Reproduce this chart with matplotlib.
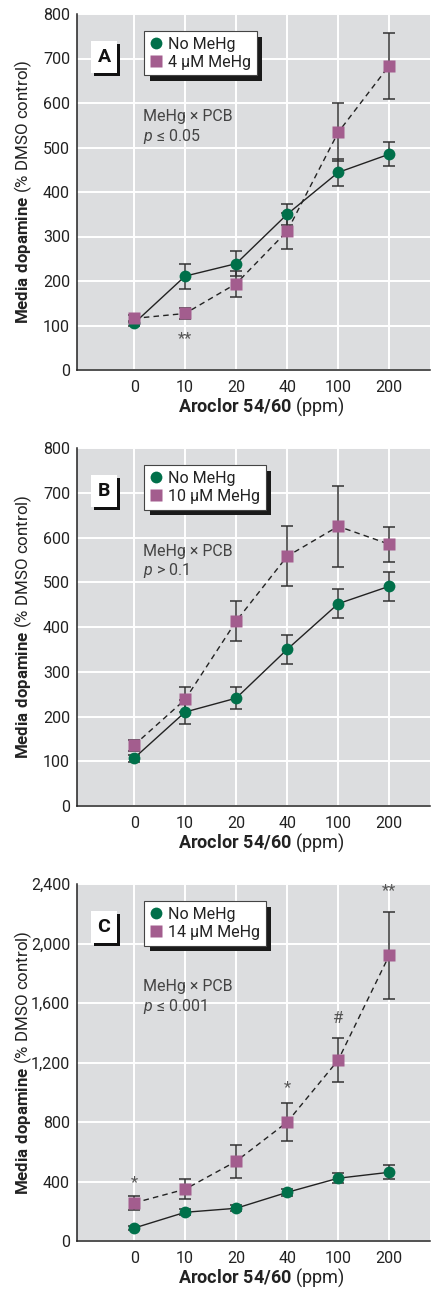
import matplotlib
matplotlib.use("Agg")
import matplotlib.pyplot as plt
import matplotlib.patheffects as pe
from matplotlib.ticker import FuncFormatter

FONT = ['Roboto', 'DejaVu Sans']
plt.rcParams['font.family'] = FONT
plt.rcParams['mathtext.fontset'] = 'custom'
plt.rcParams['mathtext.rm'] = 'Roboto'
plt.rcParams['mathtext.bf'] = 'Roboto:bold'
plt.rcParams['mathtext.it'] = 'Roboto:italic'

categories = ['0', '10', '20', '40', '100', '200']

a_no = [105, 211, 239, 350, 444, 485]
a_no_err = [6, 28, 28, 24, 30, 27]
a_me = [116, 127, 194, 312, 534, 684]
a_me_err = [8, 13, 29, 40, 65, 74]

b_no = [107, 210, 241, 350, 452, 491]
b_no_err = [8, 27, 25, 32, 32, 32]
b_me = [136, 238, 413, 558, 625, 585]
b_me_err = [12, 28, 44, 67, 90, 39]

c_no = [87, 193, 220, 327, 422, 462]
c_no_err = [15, 20, 20, 25, 35, 47]
c_me = [256, 348, 536, 799, 1216, 1920]
c_me_err = [45, 67, 111, 130, 146, 293]

panels = [
    dict(letter='A', dose='4', no=a_no, no_err=a_no_err, me=a_me, me_err=a_me_err,
         ymax=800, ystep=100, stat=r'$\it{p}$' + ' \u2264 0.05',
         marks=[(1, 71, '**')]),
    dict(letter='B', dose='10', no=b_no, no_err=b_no_err, me=b_me, me_err=b_me_err,
         ymax=800, ystep=100, stat=r'$\it{p}$' + ' > 0.1', marks=[]),
    dict(letter='C', dose='14', no=c_no, no_err=c_no_err, me=c_me, me_err=c_me_err,
         ymax=2400, ystep=400, stat=r'$\it{p}$' + ' \u2264 0.001',
         marks=[(0, 395, '*'), (3, 1032, '*'), (4, 1498, '#'), (5, 2357, '**')]),
]

GREEN = '#00704A'
PURPLE = '#A35D8E'
BG = '#DCDDDF'
ERR = '#333333'

W, H = 437, 1289
fig = plt.figure(figsize=(W / 100, H / 100), dpi=100)

tops = [14, 448, 884]
bottoms = [370, 806, 1241]

x = list(range(len(categories)))

for p, top, bot in zip(panels, tops, bottoms):
    ax = fig.add_axes([77 / W, 1 - bot / H, 353 / W, (bot - top) / H])
    ax.set_facecolor(BG)
    ax.set_xlim(-1.12, 5.8)
    ax.set_ylim(0, p['ymax'])
    ax.set_xticks(x)
    ax.set_xticklabels(categories)
    yt = list(range(0, p['ymax'] + 1, p['ystep']))
    ax.set_yticks(yt)
    ax.yaxis.set_major_formatter(FuncFormatter(lambda v, pos: f'{int(v):,}'))
    ax.grid(True, color='white', lw=1.4)
    ax.set_axisbelow(True)
    for s in ['top', 'right']:
        ax.spines[s].set_visible(False)
    for s in ['left', 'bottom']:
        ax.spines[s].set_color('#222222')
        ax.spines[s].set_linewidth(1.1)
    ax.tick_params(length=0, labelsize=11.5, colors='#222222')
    ax.tick_params(axis='y', pad=5)
    ax.tick_params(axis='x', pad=7)

    # lines
    ax.plot(x, p['no'], color='#222222', lw=1.0, zorder=3)
    ax.plot(x, p['me'], color='#222222', lw=1.0, ls=(0, (4, 3)), zorder=3)
    # error bars
    ax.errorbar(x, p['no'], yerr=p['no_err'], fmt='none', ecolor=ERR, elinewidth=1.1,
                capsize=4, capthick=1.1, zorder=4)
    ax.errorbar(x, p['me'], yerr=p['me_err'], fmt='none', ecolor=ERR, elinewidth=1.1,
                capsize=4, capthick=1.1, zorder=4)
    # markers
    h1, = ax.plot(x, p['no'], 'o', color=GREEN, ms=8.5, mec='none', zorder=5, label='No MeHg')
    h2, = ax.plot(x, p['me'], 's', color=PURPLE, ms=8.5, mec='none', zorder=6,
                  label=f"{p['dose']} \u00b5M MeHg")

    leg = ax.legend(handles=[h1, h2], loc='upper left', bbox_to_anchor=(0.19, 0.952),
                    frameon=True, fancybox=False, fontsize=11.5, handlelength=0.8,
                    handletextpad=0.35, borderpad=0.35, labelspacing=0.2,
                    borderaxespad=0)
    fr = leg.get_frame()
    fr.set_facecolor('white')
    fr.set_edgecolor('#444444')
    fr.set_linewidth(0.8)
    fr.set_alpha(1)
    fr.set_path_effects([pe.SimplePatchShadow(offset=(4, -4), shadow_rgbFace='#1a1a1a', alpha=1),
                         pe.Normal()])
    for t in leg.get_texts():
        t.set_color('#222222')
    leg.set_zorder(10)

    lt = ax.text(0.0765, 0.88, p['letter'], transform=ax.transAxes, ha='center', va='center',
                 fontsize=14, fontweight='bold', color='#111111', zorder=10,
                 bbox=dict(boxstyle='square,pad=0.35', fc='white', ec='none'))
    fig.canvas.draw()
    lt.get_bbox_patch().set_path_effects(
        [pe.SimplePatchShadow(offset=(2.2, -2.2), shadow_rgbFace='#111111', alpha=1), pe.Normal()])

    ax.text(0.187, 0.712, 'MeHg \u00d7 PCB', transform=ax.transAxes, ha='left', va='center',
            fontsize=11.5, color='#444444')
    ax.text(0.187, 0.657, p['stat'], transform=ax.transAxes, ha='left', va='center',
            fontsize=11.5, color='#444444')

    for mx, my, s in p['marks']:
        ax.text(mx, my, s, ha='center', va='center', fontsize=12, color='#555555')

    ax.set_ylabel(r'$\bf{Media\ dopamine}$' + ' (% DMSO control)', fontsize=12.2,
                  color='#222222')
    ax.yaxis.set_label_coords(-43 / 353, 0.5)
    ax.text(2.5, -37 / (bot - top), r'$\bf{Aroclor\ 54/60}$' + ' (ppm)',
            transform=matplotlib.transforms.blended_transform_factory(ax.transData, ax.transAxes),
            ha='center', va='center', fontsize=13, color='#222222')

fig.savefig('out.png', dpi=100)
